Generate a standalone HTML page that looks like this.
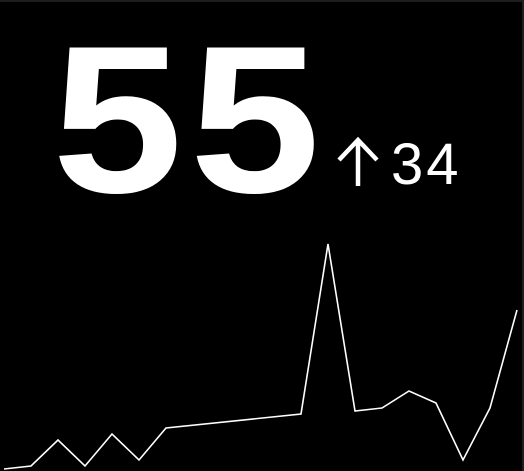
<!DOCTYPE html>
<html><head><meta charset="utf-8"><style>
html,body{margin:0;padding:0;background:#000;}
#wrap{position:relative;width:524px;height:471px;background:#000;overflow:hidden;box-shadow:inset 0 2px 0 #1c1e22,inset -2px 0 0 #1c1e22;}
.t{position:absolute;color:#fff;font-family:"Liberation Sans",sans-serif;white-space:nowrap;line-height:1;}
</style></head><body>
<div id="wrap">
<div class="t" style="left:52px;top:15px;font-size:210px;font-weight:bold;letter-spacing:6px;transform:scaleX(1.12);transform-origin:0 0;">55</div>
<svg style="position:absolute;left:336px;top:136px" width="44" height="52" viewBox="0 0 44 52">
<path d="M22 50V4M3 24L22 4L41 24" stroke="#fff" stroke-width="4.5" fill="none"/></svg>
<div class="t" style="left:391px;top:136px;font-size:58px;letter-spacing:3px;">34</div>
<svg id="spark" style="position:absolute;left:0;top:0" width="524" height="471"></svg>
</div>
<script>
const xIndex=[0,1,2,3,4,5,6,11,12,13,14,15,16,17,18,19];
const values=[1,4,30,4,36,10,42,56,226,59,62,79,67,10,62,160];
const sx=i=>4+i*27;
const sy=v=>470-v;
const svg=document.getElementById('spark');
const p=document.createElementNS('http://www.w3.org/2000/svg','polyline');


p.setAttribute('points',values.map((v,k)=>sx(xIndex[k])+','+sy(v)).join(' '));
p.setAttribute('fill','none');p.setAttribute('stroke','#fff');p.setAttribute('stroke-width','1.6');
svg.appendChild(p);
</script>
</body></html>
